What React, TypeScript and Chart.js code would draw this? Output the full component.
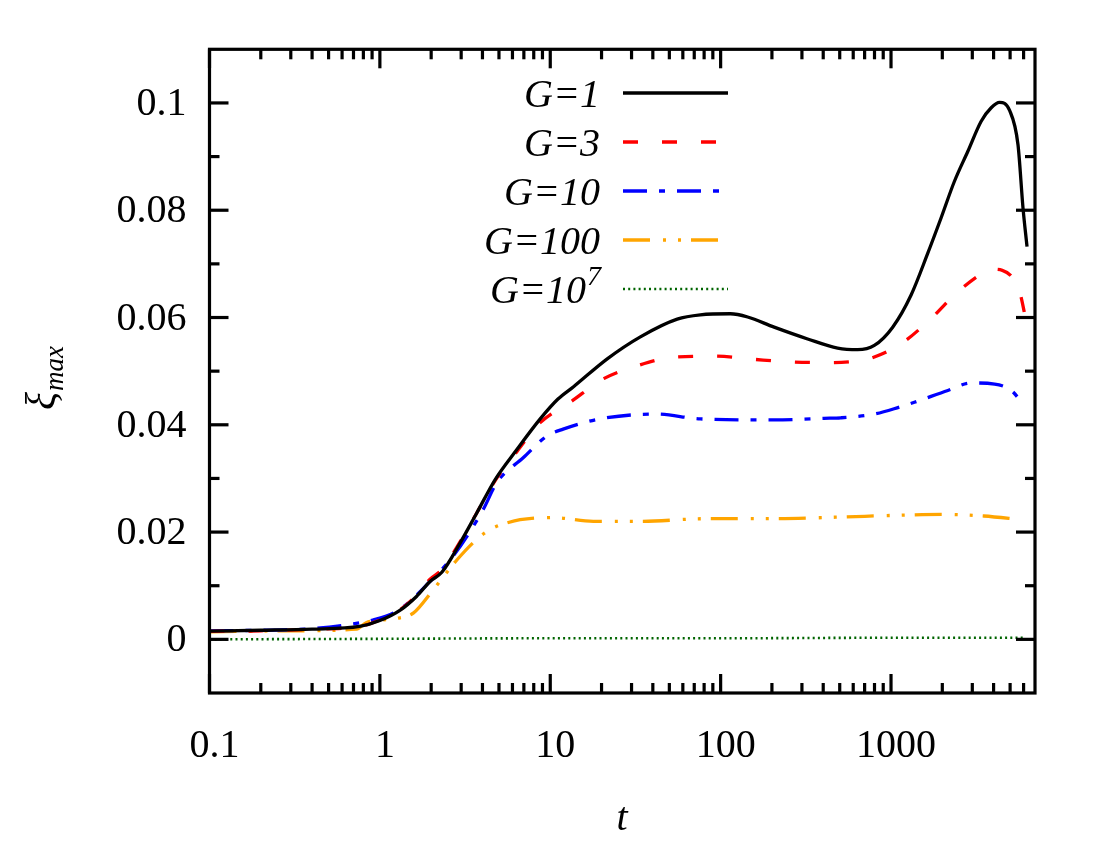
import React, { useEffect, useRef } from 'react';
import { Chart, registerables, Plugin } from 'chart.js';

Chart.register(...registerables);

// values
const tG1 = [0.1, 0.2, 0.4, 0.76, 1.0, 1.31, 1.64, 1.97, 2.31, 2.96, 3.71, 4.75, 6.37, 8.73, 11.1, 13.7, 21.6, 33.8, 55.6, 76, 114, 144, 206, 324, 486, 637, 798, 1023, 1312, 1644, 1969, 2357, 2826, 3383, 3873, 4335, 4966, 5563, 5953, 6285];
const xiG1 = [0.00155, 0.0017, 0.0019, 0.0024, 0.0035, 0.0054, 0.008, 0.0108, 0.0125, 0.018, 0.0236, 0.0298, 0.0354, 0.0411, 0.0448, 0.0471, 0.0523, 0.0564, 0.0597, 0.0605, 0.0607, 0.0601, 0.0582, 0.056, 0.0543, 0.054, 0.0548, 0.0582, 0.0642, 0.072, 0.0786, 0.0854, 0.091, 0.0966, 0.0991, 0.1001, 0.0986, 0.0922, 0.0804, 0.0732];

const tG3 = [0.1, 0.2, 0.4, 0.76, 1.0, 1.31, 1.64, 1.97, 2.31, 2.96, 3.71, 4.75, 6.37, 8.73, 13.1, 20.6, 32.4, 53, 91, 157, 270, 444, 666, 762, 1145, 1679, 2411, 3539, 3873, 4500, 5200, 5690, 6223];
const xiG3 = [0.0015, 0.0016, 0.0019, 0.0024, 0.0036, 0.0055, 0.0082, 0.0112, 0.013, 0.0182, 0.0236, 0.0296, 0.035, 0.0404, 0.0442, 0.0486, 0.051, 0.0526, 0.0528, 0.0522, 0.0517, 0.0516, 0.052, 0.0524, 0.0551, 0.0595, 0.0645, 0.0685, 0.069, 0.0688, 0.0673, 0.0648, 0.0592];

const tG10 = [0.1, 0.2, 0.4, 0.7, 0.91, 1.31, 1.97, 2.69, 4.04, 4.85, 6.96, 9.55, 11.9, 19.6, 42, 76, 206, 404, 507, 798, 1120, 1371, 2157, 2956, 4058, 5080, 5953];
const xiG10 = [0.0016, 0.0017, 0.002, 0.0029, 0.0036, 0.0056, 0.0108, 0.0155, 0.0242, 0.0292, 0.0339, 0.0379, 0.0392, 0.0411, 0.042, 0.0411, 0.0409, 0.0412, 0.0413, 0.042, 0.0433, 0.0442, 0.0464, 0.0478, 0.0476, 0.0464, 0.0439];

const tG100 = [0.1, 0.3, 0.73, 0.83, 1.25, 1.57, 2.05, 2.83, 3.88, 4.64, 5.56, 6.66, 10.4, 17.9, 33.8, 83, 206, 507, 1000, 2000, 3500, 5832];
const xiG100 = [0.0014, 0.0016, 0.0019, 0.0031, 0.0039, 0.0049, 0.0092, 0.0148, 0.0192, 0.0208, 0.0217, 0.0223, 0.0227, 0.022, 0.022, 0.0225, 0.0225, 0.0228, 0.0231, 0.0233, 0.023, 0.0223];

const tG1e7 = [0.1, 1, 10, 100, 1000, 6000];
const xiG1e7 = [0.0, 0.0001, 0.0002, 0.0002, 0.0003, 0.0003];

const seriesLabels = ['G=1', 'G=3', 'G=10', 'G=100', 'G=10^7'];

const xTicks = [0.1, 1, 10, 100, 1000];
const xTickLabels = ['0.1', '1', '10', '100', '1000'];
const yTicks = [0, 0.02, 0.04, 0.06, 0.08, 0.1];
const yTickLabels = ['0', '0.02', '0.04', '0.06', '0.08', '0.1'];
const yMinorTicks = [0.01, 0.03, 0.05, 0.07, 0.09];

const SERIF = '"Liberation Serif", "Times New Roman", Times, serif';

const zip = (t: number[], v: number[]) => t.map((x, i) => ({ x, y: v[i] }));

// box round the plot with inward ticks on all four sides, plus tick labels
const framePlugin: Plugin = {
  id: 'frame',
  afterDatasetsDraw(chart) {
    const { ctx, chartArea: a } = chart;
    const xs = chart.scales.x;
    const ys = chart.scales.y;
    const seg = (x1: number, y1: number, x2: number, y2: number) => {
      ctx.beginPath();
      ctx.moveTo(x1, y1);
      ctx.lineTo(x2, y2);
      ctx.stroke();
    };
    ctx.save();
    ctx.strokeStyle = '#000';
    ctx.fillStyle = '#000';
    ctx.lineWidth = 3.2;
    ctx.lineCap = 'butt';
    ctx.font = `40px ${SERIF}`;

    ctx.textAlign = 'center';
    ctx.textBaseline = 'alphabetic';
    xTicks.forEach((d, i) => {
      const p = xs.getPixelForValue(d);
      seg(p, a.bottom, p, a.bottom - 19);
      seg(p, a.top, p, a.top + 19);
      ctx.fillText(xTickLabels[i], p + 5, a.bottom + 64);
      for (let m = 2; m <= 9; m++) {
        const v = d * m;
        if (v >= xs.max) break;
        const q = xs.getPixelForValue(v);
        seg(q, a.bottom, q, a.bottom - 10);
        seg(q, a.top, q, a.top + 10);
      }
    });

    ctx.textAlign = 'right';
    ctx.textBaseline = 'middle';
    yTicks.forEach((v, i) => {
      const p = ys.getPixelForValue(v);
      seg(a.left, p, a.left + 19, p);
      seg(a.right, p, a.right - 19, p);
      ctx.fillText(yTickLabels[i], a.left - 23, p + 1.5);
    });
    yMinorTicks.forEach((v) => {
      const p = ys.getPixelForValue(v);
      seg(a.left, p, a.left + 10, p);
      seg(a.right, p, a.right - 10, p);
    });
    ctx.strokeRect(a.left, a.top, a.right - a.left, a.bottom - a.top);
    ctx.restore();
  },
};

// gnuplot style key: right aligned text, sample line after it
const keyPlugin: Plugin = {
  id: 'key',
  afterDraw(chart) {
    const { ctx } = chart;
    const textRight = 600;
    const lineStart = 623;
    const lineEnd = 728;
    ctx.save();
    chart.data.datasets.forEach((ds: any, i: number) => {
      const y = 93 + i * 49;
      const [base, sup] = String(ds.label).split('^');
      ctx.fillStyle = '#000';
      ctx.textBaseline = 'alphabetic';
      ctx.textAlign = 'left';
      ctx.font = `italic 28px ${SERIF}`;
      const supW = sup ? ctx.measureText(sup).width : 0;
      ctx.font = `italic 40px ${SERIF}`;
      const baseW = ctx.measureText(base).width;
      const x0 = textRight - baseW - supW;
      ctx.fillText(base, x0, y + 14);
      if (sup) {
        ctx.font = `italic 28px ${SERIF}`;
        ctx.fillText(sup, x0 + baseW + 1, y - 4);
      }
      ctx.strokeStyle = ds.borderColor;
      ctx.lineWidth = ds.borderWidth;
      ctx.setLineDash(ds.borderDash || []);
      ctx.beginPath();
      ctx.moveTo(lineStart, y);
      ctx.lineTo(lineEnd, y);
      ctx.stroke();
      ctx.setLineDash([]);
    });
    ctx.restore();
  },
};

const axisTitlePlugin: Plugin = {
  id: 'axisTitles',
  afterDraw(chart) {
    const { ctx } = chart;
    ctx.save();
    ctx.fillStyle = '#000';
    ctx.textBaseline = 'alphabetic';
    ctx.textAlign = 'center';
    ctx.font = `italic 40px ${SERIF}`;
    ctx.fillText('t', 622, 830);

    ctx.translate(55, 410);
    ctx.rotate(-Math.PI / 2);
    ctx.textAlign = 'left';
    ctx.font = `italic 42px ${SERIF}`;
    ctx.fillText('ξ', 0, 0);
    const w = ctx.measureText('ξ').width;
    ctx.font = `italic 27px ${SERIF}`;
    ctx.fillText('max', w + 1, 8);
    ctx.restore();
  },
};

export default function App() {
  const canvasRef = useRef<HTMLCanvasElement | null>(null);
  const chartRef = useRef<Chart | null>(null);

  useEffect(() => {
    if (!canvasRef.current) return;
    const ctx = canvasRef.current.getContext('2d');
    if (!ctx) return;
    if (chartRef.current) chartRef.current.destroy();

    chartRef.current = new Chart(ctx, {
      type: 'line',
      data: {
        datasets: [
          {
            label: seriesLabels[0],
            data: zip(tG1, xiG1),
            borderColor: '#000000',
            borderWidth: 3.3,
          },
          {
            label: seriesLabels[1],
            data: zip(tG3, xiG3),
            borderColor: '#ff0000',
            borderWidth: 3.3,
            borderDash: [15, 24],
          },
          {
            label: seriesLabels[2],
            data: zip(tG10, xiG10),
            borderColor: '#0000ff',
            borderWidth: 3.3,
            borderDash: [24, 12, 6, 12],
          },
          {
            label: seriesLabels[3],
            data: zip(tG100, xiG100),
            borderColor: '#ffa500',
            borderWidth: 3.3,
            borderDash: [27, 13, 3, 12, 3, 10],
          },
          {
            label: seriesLabels[4],
            data: zip(tG1e7, xiG1e7),
            borderColor: '#006400',
            borderWidth: 2.6,
            borderDash: [2, 3.2],
          },
        ] as any,
      },
      options: {
        animation: false,
        responsive: true,
        maintainAspectRatio: false,
        layout: { padding: { top: 49.3, right: 65, left: 0, bottom: 0 } },
        elements: {
          point: { radius: 0, hoverRadius: 0 },
          line: { cubicInterpolationMode: 'monotone', fill: false, borderCapStyle: 'butt' },
        },
        plugins: {
          legend: { display: false },
          tooltip: { enabled: false },
        },
        events: [],
        scales: {
          x: {
            type: 'logarithmic',
            min: 0.1,
            max: 7000,
            grid: { display: false },
            border: { display: false },
            ticks: { display: false },
            afterBuildTicks: (s: any) => {
              s.ticks = xTicks.map((value) => ({ value }));
            },
            afterFit: (s: any) => {
              s.height = 157;
            },
          },
          y: {
            type: 'linear',
            min: -0.01,
            max: 0.11,
            grid: { display: false },
            border: { display: false },
            ticks: { display: false },
            afterBuildTicks: (s: any) => {
              s.ticks = yTicks.map((value) => ({ value }));
            },
            afterFit: (s: any) => {
              s.width = 209.5;
            },
          },
        },
      },
      plugins: [framePlugin, keyPlugin, axisTitlePlugin],
    });

    return () => {
      if (chartRef.current) {
        chartRef.current.destroy();
        chartRef.current = null;
      }
    };
  }, []);

  return (
    <div style={{ position: 'absolute', left: 0, top: 0, width: 1100, height: 850, background: '#fff' }}>
      <canvas ref={canvasRef} />
    </div>
  );
}
